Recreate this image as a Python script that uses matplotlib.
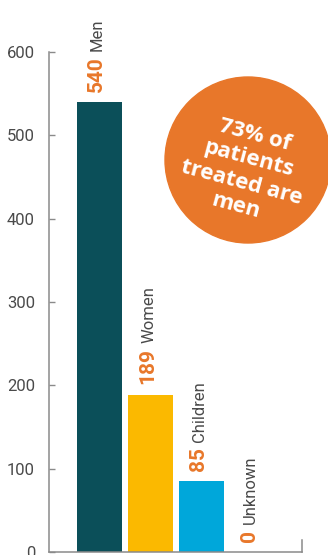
import matplotlib.pyplot as plt
from matplotlib.patches import Circle
from matplotlib.transforms import offset_copy

plt.rcParams['font.family'] = ['Roboto', 'DejaVu Sans']

# Patients treated, by group
groups = ['Men', 'Women', 'Children', 'Unknown']
patients = [540, 189, 85, 0]
bar_colors = ['#0b4f59', '#fbb900', '#00a7da', '#00a7da']
yticks = [0, 100, 200, 300, 400, 500, 600]
callout = '73% of\npatients\ntreated are\nmen'

orange = '#e8772a'
grey_axis = '#8a8a8a'
grey_text = '#4a4a4a'

fig = plt.figure(figsize=(3.28, 5.55), dpi=100)
ax = fig.add_axes([49 / 328, 3 / 555, 253 / 328, 500 / 555])

x = range(len(groups))
ax.bar(x, patients, width=0.88, color=bar_colors)

ax.set_xlim(-0.99, 3.97)
ax.set_ylim(0, 600)
ax.set_yticks(yticks)
ax.set_xticks([])

for side in ['top', 'right']:
    ax.spines[side].set_visible(False)
for side in ['left', 'bottom']:
    ax.spines[side].set_color(grey_axis)
    ax.spines[side].set_linewidth(1.1)

ax.tick_params(axis='y', direction='in', length=4, width=1.0,
               color=grey_axis, labelcolor=grey_text, labelsize=12, pad=10)

# small end tick on the right of the baseline
ax.plot([3.97, 3.97], [0, 15], color=grey_axis, lw=1.1, clip_on=False)

# rotated value + group labels above each bar
for xi, val, name in zip(x, patients, groups):
    tr = offset_copy(ax.transData, fig=fig, x=2.5, y=10, units='dots')
    num = ax.text(xi, val, str(val), transform=tr, rotation=90,
                  rotation_mode='anchor', ha='left', va='baseline',
                  color=orange, fontsize=15, fontweight='bold')
    ax.annotate(name, xy=(xi, 1), xycoords=('data', num),
                xytext=(1.8, 4), textcoords='offset points',
                rotation=90, rotation_mode='anchor', ha='left', va='baseline',
                color=grey_text, fontsize=12)

# orange callout badge
badge = Circle((2.48, 3.95), 0.83, transform=fig.dpi_scale_trans,
               color=orange, clip_on=False)
fig.patches.append(badge)
fig.text(2.45, 3.84, callout, transform=fig.dpi_scale_trans,
         ha='center', va='center', rotation=-15, linespacing=1.22,
         color='white', fontsize=16, fontweight='bold', family='Open Sans')

fig.savefig('out.png', dpi=100)
